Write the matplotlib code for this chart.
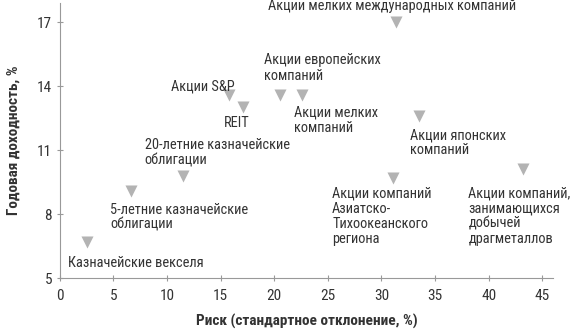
import matplotlib
matplotlib.use("Agg")
import matplotlib.pyplot as plt
from matplotlib import font_manager

# pick a narrow family if one is installed
names = {f.name for f in font_manager.fontManager.ttflist}
family = "Roboto"
for cand in ["Roboto Condensed", "Liberation Sans Narrow", "Open Sans Condensed", "Noto Sans Condensed"]:
    if cand in names:
        family = cand
        break
plt.rcParams["font.family"] = [family, "DejaVu Sans"]

# data: risk (std dev, %) and annual return (%)
labels = [
    "Казначейские векселя",
    "5-летние казначейские\nоблигации",
    "20-летние казначейские\nоблигации",
    "Акции S&P",
    "REIT",
    "Акции европейских\nкомпаний",
    "Акции мелких\nкомпаний",
    "Акции мелких международных компаний",
    "Акции японских\nкомпаний",
    "Акции компаний\nАзиатско-\nТихоокеанского\nрегиона",
    "Акции компаний,\nзанимающихся\nдобычей\nдрагметаллов",
]
risk = [2.5, 6.6, 11.5, 15.8, 17.1, 20.5, 22.6, 31.4, 33.5, 31.1, 43.2]
ret = [6.7, 9.1, 9.8, 13.6, 13.0, 13.6, 13.6, 17.0, 12.6, 9.7, 10.1]

# label anchor points (left edge, vertical centre) in data units
label_x = [0.75, 4.7, 7.9, 10.4, 16.5, 19.0, 21.8, 19.45, 32.65, 25.4, 38.1]
label_y = [5.7, 7.85, 10.89, 14.0, 12.26, 14.85, 12.4, 17.78, 11.34, 7.9, 7.9]
label_ha = ["left"] * 4 + ["center"] + ["left"] * 6

text_color = "#333333"
marker_color = "#b3b3b3"
axis_color = "#999999"

fig = plt.figure(figsize=(5.7, 3.31), dpi=100)
ax = fig.add_axes([0.105, 0.16, 0.865, 0.831])

ax.scatter(risk, ret, marker="v", s=75, color=marker_color, linewidths=0, zorder=3, clip_on=False)

for lab, x, y, ha in zip(labels, label_x, label_y, label_ha):
    ax.text(x, y, lab, ha=ha, va="center", fontsize=10.4, color=text_color,
            linespacing=1.1, clip_on=False)

ax.set_xlim(0, 46)
ax.set_ylim(5, 17.9)
ax.set_xticks([0, 5, 10, 15, 20, 25, 30, 35, 40, 45])
ax.set_yticks([5, 8, 11, 14, 17])

for side in ["top", "right"]:
    ax.spines[side].set_visible(False)
for side in ["left", "bottom"]:
    ax.spines[side].set_color(axis_color)
    ax.spines[side].set_linewidth(0.8)

ax.tick_params(axis="both", colors=axis_color, labelcolor=text_color, labelsize=11,
               length=4, width=0.8, direction="inout")
ax.tick_params(axis="x", pad=6)

ax.set_xlabel("Риск (стандартное отклонение, %)", fontsize=11, fontweight="bold",
              color=text_color, labelpad=8)
ax.set_ylabel("Годовая доходность, %", fontsize=11, fontweight="bold",
              color=text_color, labelpad=12)

fig.savefig("out.png", dpi=100)
